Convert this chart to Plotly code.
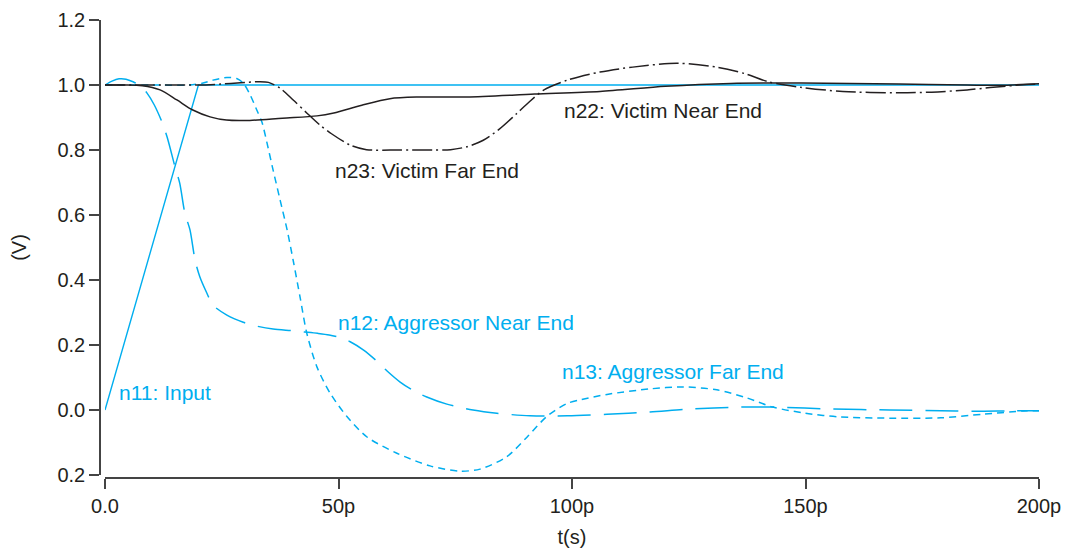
import plotly.graph_objects as go

# ---- data (time in ps, voltage in V) ----
t_input = [0, 20, 200]
v_input = [0.0, 1.0, 1.0]

t_near = [0, 1.5, 3, 4.5, 6, 7.5, 9, 10.5, 12.2, 13.3, 15, 16, 17.1, 18.2, 19.3, 20.3, 21.8, 23.1,
          26.1, 29.6, 32.5, 36, 40, 42.8, 45.5, 48, 50.5, 52.5, 55.3, 58, 60.4, 63.2, 66, 68.9,
          73.2, 78.8, 83.9, 91, 99, 107.5, 116.7, 125, 136, 143, 156, 168, 179, 186, 193, 200]
v_near = [1.0, 1.012, 1.019, 1.018, 1.01, 0.998, 0.975, 0.94, 0.886, 0.84, 0.748, 0.698, 0.606,
          0.554, 0.46, 0.41, 0.36, 0.323, 0.292, 0.27, 0.258, 0.249, 0.244, 0.24, 0.236, 0.231,
          0.222, 0.21, 0.185, 0.153, 0.12, 0.086, 0.06, 0.04, 0.018, 0.0, -0.01, -0.018, -0.018,
          -0.013, -0.006, 0.003, 0.009, 0.009, 0.003, 0.0, -0.002, -0.004, -0.003, -0.002]

t_far = [0, 10, 18, 21, 23.1, 26.1, 28.2, 29.6, 31, 32.5, 33.6, 34.7, 36, 37.5, 39, 40.3, 41.8,
         43.2, 45.4, 48.2, 51.8, 56.1, 62.5, 69.6, 76, 80.3, 86, 90.4, 94.6, 98.9, 102, 107.5,
         116.7, 123.8, 131, 137.5, 143, 150, 157, 168, 179, 188, 196.6, 200]
v_far = [1.0, 1.0, 1.0, 1.006, 1.015, 1.023, 1.02, 1.006, 0.972, 0.923, 0.886, 0.821, 0.738,
         0.646, 0.554, 0.46, 0.345, 0.237, 0.132, 0.052, -0.02, -0.083, -0.133, -0.172, -0.188,
         -0.182, -0.144, -0.083, -0.02, 0.02, 0.032, 0.048, 0.065, 0.071, 0.062, 0.037, 0.009,
         -0.01, -0.021, -0.025, -0.024, -0.013, -0.003, -0.002]

t_vnear = [0, 4, 8, 11.8, 15.4, 18.8, 22.5, 26, 31, 38, 45.4, 49, 55, 61, 67, 77.5, 92, 106,
           120, 134, 149, 170, 184.6, 191.6, 200]
v_vnear = [1.0, 1.0, 0.998, 0.985, 0.954, 0.923, 0.902, 0.892, 0.891, 0.898, 0.905, 0.914,
           0.938, 0.958, 0.963, 0.963, 0.972, 0.98, 0.996, 1.005, 1.006, 1.003, 1.0, 0.999, 1.004]

t_vfar = [0, 10, 20, 25, 29, 33, 35, 37.5, 40.3, 43.2, 46, 48.5, 52.5, 56, 63, 70, 74, 77.5, 81,
          84.5, 88, 91, 94, 99, 106, 113, 122.5, 131, 137, 142, 149, 158, 170, 177, 184.6, 189.5,
          195, 200]
v_vfar = [1.0, 1.0, 1.0, 1.003, 1.007, 1.01, 1.008, 0.99, 0.954, 0.914, 0.877, 0.85, 0.815, 0.801,
          0.8, 0.8, 0.801, 0.81, 0.83, 0.865, 0.91, 0.95, 0.985, 1.015, 1.04, 1.055, 1.067, 1.055,
          1.035, 1.01, 0.993, 0.98, 0.976, 0.978, 0.985, 0.992, 0.999, 1.003]

x_tickvals = [0, 50, 100, 150, 200]
x_ticktext = ["0.0", "50p", "100p", "150p", "200p"]
y_tickvals = [-0.2, 0.0, 0.2, 0.4, 0.6, 0.8, 1.0, 1.2]
y_ticktext = ["0.2", "0.0", "0.2", "0.4", "0.6", "0.8", "1.0", "1.2"]

labels = [
    ("n11: Input", 2.6, 0.055, "cyan"),
    ("n12: Aggressor Near End", 49.5, 0.268, "cyan"),
    ("n13: Aggressor Far End", 97.4, 0.12, "cyan"),
    ("n22: Victim Near End", 97.9, 0.923, "black"),
    ("n23: Victim Far End", 48.8, 0.738, "black"),
]

CYAN = "#00AEEF"
BLACK = "#231F20"
FONT = "Liberation Sans, Arial, sans-serif"

fig = go.Figure()
fig.add_trace(go.Scatter(x=t_input, y=v_input, mode="lines",
                         line=dict(color=CYAN, width=1.4)))
fig.add_trace(go.Scatter(x=t_near, y=v_near, mode="lines",
                         line=dict(color=CYAN, width=1.5, dash="33px,13px", shape="spline", smoothing=0.8)))
fig.add_trace(go.Scatter(x=t_far, y=v_far, mode="lines",
                         line=dict(color=CYAN, width=1.5, dash="7px,5px", shape="spline", smoothing=0.8)))
fig.add_trace(go.Scatter(x=t_vnear, y=v_vnear, mode="lines",
                         line=dict(color=BLACK, width=1.5, shape="spline", smoothing=0.8)))
fig.add_trace(go.Scatter(x=t_vfar, y=v_vfar, mode="lines",
                         line=dict(color=BLACK, width=1.5, dash="20px,4px,2px,4px", shape="spline", smoothing=0.8)))

for text, x, y, c in labels:
    fig.add_annotation(x=x, y=y, text=text, showarrow=False, xanchor="left", yanchor="middle",
                       font=dict(family=FONT, size=21, color=CYAN if c == "cyan" else BLACK))

W, H = 1074, 548
ml, mr, mt, mb = 100, 35, 20, 70
pw = W - ml - mr
ph = H - mt - mb

fig.update_layout(
    width=W, height=H,
    margin=dict(l=ml, r=mr, t=mt, b=mb),
    plot_bgcolor="white", paper_bgcolor="white",
    showlegend=False,
    font=dict(family=FONT, size=20, color=BLACK),
    xaxis=dict(range=[0, 200], domain=[5 / pw, 1], anchor="free", position=0, automargin=False,
               tickvals=x_tickvals, ticktext=x_ticktext, tickfont=dict(size=20),
               showline=True, linecolor="#444", linewidth=1.5,
               ticks="outside", ticklen=10, tickwidth=1.5, tickcolor="#444",
               showgrid=False, zeroline=False,
               title=dict(text="t(s)", standoff=14, font=dict(size=20))),
    yaxis=dict(range=[-0.2, 1.2], domain=[3 / ph, 1], anchor="free", position=0, automargin=False,
               tickvals=y_tickvals, ticktext=y_ticktext, tickfont=dict(size=20),
               showline=True, linecolor="#444", linewidth=1.5,
               ticks="outside", ticklen=10, tickwidth=1.5, tickcolor="#444",
               showgrid=False, zeroline=False,
               title=dict(text="(V)", standoff=24, font=dict(size=20))),
)

fig.write_html("out.html", config={"displayModeBar": False},
               post_script="document.body.style.margin='0';")
